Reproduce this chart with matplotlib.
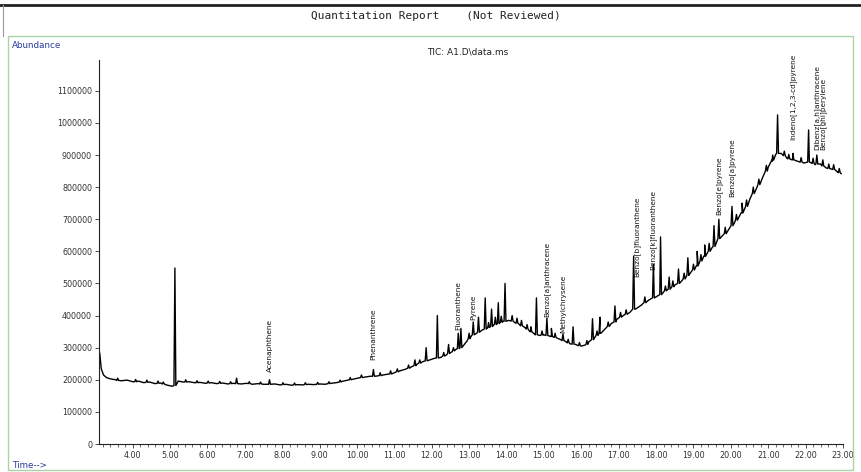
import numpy as np
import matplotlib.pyplot as plt
from matplotlib.lines import Line2D
from matplotlib.patches import Rectangle
from matplotlib.ticker import MultipleLocator, FuncFormatter

# baseline readings of the TIC trace (minutes, abundance in thousands)
base_t = [3.12, 3.16, 3.22, 3.30, 3.40, 3.55, 3.70, 3.85, 4.00, 4.15, 4.30, 4.45,
          4.60, 4.75, 4.90, 5.05, 5.22, 5.35, 5.50, 5.65, 5.80, 5.95, 6.10, 6.25,
          6.40, 6.55, 6.70, 6.90, 7.05, 7.20, 7.35, 7.50, 7.80, 7.95, 8.10, 8.25,
          8.40, 8.55, 8.70, 8.85, 9.00, 9.15, 9.30, 9.45, 9.60, 9.75, 9.90, 10.05,
          10.20, 10.35, 10.55, 10.70, 10.85, 11.00, 11.15, 11.30, 11.45, 11.60,
          11.75, 11.95, 12.05, 12.25, 12.40, 12.55, 12.65, 12.80, 12.95, 13.05,
          13.20, 13.35, 13.50, 13.65, 13.80, 13.90, 14.05, 14.20, 14.35, 14.50,
          14.65, 14.75, 14.90, 15.00, 15.20, 15.35, 15.45, 15.60, 15.70, 15.85,
          16.00, 16.10, 16.20, 16.35, 16.50, 16.65, 16.80, 16.95, 17.10, 17.30,
          17.45, 17.60, 17.80, 17.95, 18.10, 18.30, 18.50, 18.70, 18.90, 19.10,
          19.30, 19.50, 19.70, 19.90, 20.10, 20.30, 20.50, 20.70, 20.85, 21.00,
          21.10, 21.20, 21.35, 21.50, 21.65, 21.80, 21.95, 22.10, 22.25, 22.40,
          22.55, 22.70, 22.85, 22.95]
base_a = [282, 235, 215, 207, 203, 200, 197, 199, 194, 196, 191, 193,
          188, 190, 184, 180, 196, 193, 194, 191, 192, 189, 191, 188,
          190, 187, 189, 187, 189, 186, 188, 186, 187, 184, 186, 183,
          185, 184, 186, 185, 187, 186, 189, 191, 195, 199, 202, 206,
          208, 211, 212, 215, 218, 222, 228, 233, 240, 248,
          256, 262, 266, 270, 278, 288, 295, 308, 322, 335,
          345, 355, 362, 370, 376, 382, 385, 380, 372, 362,
          350, 342, 338, 340, 335, 330, 325, 318, 312, 310,
          305, 308, 318, 330, 345, 360, 375, 388, 398, 410,
          420, 432, 448, 458, 468, 480, 495, 510, 530, 555,
          585, 612, 640, 660, 690, 720, 760, 800, 830, 862,
          880, 902, 905, 890, 885, 880, 875, 880, 870, 872,
          860, 856, 848, 842]

# peaks: retention time, foot level, apex (thousands)
peak_rt = [5.13, 6.78, 7.66, 10.44, 10.90, 11.55, 11.85, 12.15, 12.45, 12.71,
           12.78, 13.11, 13.25, 13.43, 13.60, 13.78, 13.96, 14.15, 14.40, 14.80,
           15.08, 15.20, 15.51, 15.78, 16.30, 16.50, 16.90, 17.40, 17.93, 18.12,
           18.35, 18.60, 18.85, 19.10, 19.30, 19.55, 19.68, 20.03, 20.30, 20.60,
           21.25, 21.66, 22.08, 22.30, 22.46, 22.75,
           # small noise spikes
           3.60, 4.08, 4.38, 4.68, 4.82, 5.42, 5.72, 6.02, 6.33, 6.62, 7.12, 7.42,
           8.02, 8.33, 8.62, 8.95, 9.25, 9.55, 9.82, 10.12, 10.62, 11.08, 11.38,
           11.68, 12.32, 12.58, 13.00, 13.52, 13.70, 13.86, 14.28, 14.55, 14.65,
           14.95, 15.30, 15.65, 15.95, 16.15, 16.42, 16.72, 17.05, 17.20, 17.70,
           18.25, 18.45, 18.75, 19.00, 19.20, 19.42, 19.85, 20.15, 20.42, 20.75,
           20.95, 21.12, 21.43, 21.55, 21.88, 22.20, 22.62, 22.90]
peak_foot = [182, 188, 186, 211, 218, 244, 259, 268, 282, 297,
             300, 340, 348, 358, 366, 375, 382, 383, 368, 340,
             338, 335, 322, 311, 325, 345, 380, 420, 455, 465,
             482, 500, 525, 555, 585, 615, 640, 680, 720, 780,
             905, 885, 878, 872, 866, 855,
             198, 194, 192, 189, 187, 193, 191, 190, 189, 188, 188, 187,
             185, 184, 185, 186, 188, 193, 200, 207, 213, 225, 236,
             252, 274, 290, 328, 363, 372, 379, 376, 358, 350,
             339, 332, 315, 306, 310, 338, 366, 395, 404, 440,
             477, 490, 514, 542, 570, 600, 655, 697, 740, 808,
             850, 884, 898, 888, 878, 874, 858, 845]
peak_top = [548, 205, 200, 232, 228, 262, 300, 400, 310, 345,
            360, 380, 395, 455, 420, 440, 500, 400, 385, 455,
            392, 360, 343, 365, 390, 395, 430, 585, 560, 645,
            520, 545, 580, 600, 620, 680, 700, 740, 750, 800,
            1025, 905, 978, 900, 885, 870,
            205, 201, 199, 196, 193, 200, 197, 196, 195, 194, 194, 193,
            191, 190, 191, 192, 194, 199, 207, 215, 222, 234, 246,
            262, 285, 300, 345, 378, 395, 398, 392, 372, 365,
            352, 345, 326, 316, 322, 352, 380, 410, 418, 458,
            492, 508, 532, 560, 590, 625, 675, 715, 760, 825,
            868, 900, 912, 902, 892, 890, 872, 858]

# compound labels: name, time, bottom of text (thousands)
names = ["Acenaphthene", "Phenanthrene", "Fluoranthene", "Pyrene",
         "Benzo[a]anthracene", "Methylchrysene", "Benzo[b]fluoranthene",
         "Benzo[k]fluoranthene", "Benzo[e]pyrene", "Benzo[a]pyrene",
         "Indeno[1,2,3-cd]pyrene", "Dibenz[a,h]anthracene", "Benzo[ghi]perylene"]
name_t = [7.66, 10.44, 12.71, 13.11, 15.08, 15.51, 17.49, 17.92, 19.68, 20.03,
          21.66, 22.30, 22.46]
name_y = [224, 262, 355, 386, 396, 346, 520, 542, 713, 769, 947, 916, 916]

y_ticks = [0, 100000, 200000, 300000, 400000, 500000, 600000, 700000, 800000,
           900000, 1000000, 1100000]

# build trace
t = list(base_t)
a = list(base_a)
for r, f, p in zip(peak_rt, peak_foot, peak_top):
    t += [r - 0.025, r, r + 0.025]
    a += [f, p, f]
order = np.argsort(t)
t = np.array(t)[order]
a = np.array(a)[order] * 1000

fig = plt.figure(figsize=(8.61, 4.72), dpi=100)
W, H = 861, 472

# page decorations
fig.add_artist(Line2D([0, 1], [1 - 5 / H, 1 - 5 / H], color='#222222', lw=2.0))
fig.add_artist(Line2D([3 / W, 3 / W], [1 - 36 / H, 1 - 5 / H], color='#999999', lw=0.8))
fig.add_artist(Rectangle((8 / W, 2 / H), (853 - 8) / W, (470 - 36) / H,
                         fill=False, ec='#a9d4a9', lw=1.0))
fig.text(436 / W, 1 - 16 / H, "Quantitation Report    (Not Reviewed)",
         family='DejaVu Sans Mono', fontsize=8, ha='center', va='center', color='#222222')
fig.text(12 / W, 1 - 46 / H, "Abundance", fontsize=6.3, color='#2a3a9a',
         ha='left', va='center')
fig.text(468 / W, 1 - 52 / H, "TIC: A1.D\\data.ms", fontsize=6.5, color='#222222',
         ha='center', va='center')
fig.text(12 / W, 1 - 466 / H, "Time-->", fontsize=6.3, color='#2a3a9a',
         ha='left', va='center')

ax = fig.add_axes([99 / W, 1 - 444 / H, (843 - 99) / W, (444 - 60) / H])
ax.plot(t, a, color='black', lw=1.0)

for n, x, y in zip(names, name_t, name_y):
    ax.text(x, y * 1000, n, rotation=90, ha='center', va='bottom',
            fontsize=5.3, color='#111111')

ax.set_xlim(3.1, 23.0)
ax.set_ylim(0, 1196000)
ax.set_yticks(y_ticks)
ax.yaxis.set_major_formatter(FuncFormatter(lambda v, p: "%d" % v))
ax.xaxis.set_major_locator(MultipleLocator(1.0))
ax.xaxis.set_minor_locator(MultipleLocator(0.2))
ax.xaxis.set_major_formatter(FuncFormatter(lambda v, p: "%.2f" % v if v >= 4 else ""))
ax.tick_params(axis='both', which='major', labelsize=5.8, colors='#333333',
               length=3, width=0.6, pad=2)
ax.tick_params(axis='x', which='minor', length=2, width=0.5, color='#333333')
for s in ['top', 'right']:
    ax.spines[s].set_visible(False)
for s in ['left', 'bottom']:
    ax.spines[s].set_linewidth(0.8)
    ax.spines[s].set_color('#222222')

plt.savefig('out.png', dpi=100)
